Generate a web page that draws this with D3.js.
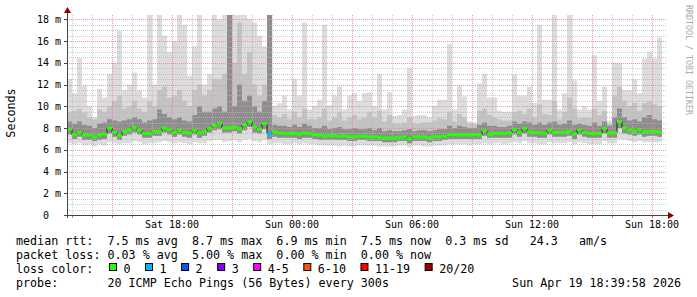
<!DOCTYPE html>
<html><head><meta charset="utf-8">
<script src="https://cdn.jsdelivr.net/npm/d3@7"></script>
<style>html,body{margin:0;padding:0;background:#fff;}svg{display:block;}text{font-family:"DejaVu Sans Mono",monospace;}</style>
</head><body><svg id="c" width="697" height="297"></svg>
<script>
// ---- data (ms) : 15 minute steps starting Sat 12:45 ----
const startTime = new Date(2026, 3, 18, 12, 45);
const endTime = new Date(2026, 3, 19, 18, 45);
const stepMinutes = 15;
const maxMs = [12.5,11.2,14.4,11.9,10.0,9.0,11.6,10.8,13.0,14.0,
16.9,11.5,12.0,13.1,11.5,10.8,18.4,12.0,18.4,16.5,
15.0,16.0,18.4,17.5,12.8,15.5,18.4,12.0,13.0,18.4,
18.0,18.4,18.4,18.4,18.4,18.4,18.0,17.7,16.5,15.5,
18.4,10.0,10.3,11.0,9.7,12.5,11.0,17.7,9.7,10.0,
10.6,17.5,10.1,11.0,11.8,9.7,11.0,11.2,10.5,11.2,
11.3,10.0,13.0,9.7,11.3,9.1,9.2,9.7,13.5,9.1,
9.2,9.2,9.0,10.0,10.6,10.6,15.7,9.7,11.9,10.9,
8.6,8.5,12.1,13.0,10.8,10.8,9.6,9.5,9.5,12.9,
11.0,11.0,11.8,10.3,17.5,10.6,10.6,18.4,9.7,11.2,
18.4,12.4,9.7,10.0,9.7,14.7,10.5,11.8,8.7,14.0,
14.0,11.5,11.5,12.5,11.2,14.4,15.0,14.4,16.3];
const upperMs = [9.5,9.6,9.8,9.4,9.0,8.8,9.7,9.5,10.0,10.5,
11.0,9.8,10.0,10.5,9.8,9.5,10.5,10.0,11.5,11.8,
10.8,11.0,11.5,10.5,10.0,11.5,12.0,11.0,11.5,12.5,
12.5,13.0,18.4,14.0,17.7,13.0,15.0,12.0,11.0,12.0,
18.4,9.2,9.0,9.3,8.8,9.5,9.0,9.8,8.8,8.8,
9.0,9.8,8.7,9.0,9.5,8.7,9.0,9.2,8.8,9.0,
9.5,9.0,9.6,8.6,9.2,8.4,8.4,8.5,9.0,8.4,
8.4,8.5,8.5,8.7,8.9,8.8,9.5,8.6,9.3,9.0,
8.4,8.4,9.6,9.8,9.2,9.0,8.8,8.7,8.7,9.5,
9.6,9.3,9.8,9.0,10.2,9.3,9.2,10.5,8.8,9.5,
10.8,9.8,8.9,9.0,8.9,9.8,9.2,9.6,8.4,11.0,
11.8,10.5,10.0,10.3,9.6,10.3,10.5,10.2,10.0];
const innerMs = [8.6,8.4,8.6,8.3,8.2,8.0,8.4,8.5,8.8,8.7,
8.6,8.7,8.8,9.0,8.8,8.5,8.7,8.8,9.7,9.3,
9.0,8.8,9.0,8.7,8.6,9.2,10.0,9.5,9.5,9.8,
10.0,9.5,18.4,10.0,12.0,10.5,11.0,10.0,9.5,10.5,
18.4,8.3,8.2,8.2,8.1,8.3,8.1,8.4,8.2,8.0,
8.0,8.2,7.9,8.0,8.1,7.9,7.9,8.0,7.9,7.9,
8.0,7.8,8.0,7.7,7.8,7.7,7.7,7.8,7.9,7.7,
7.8,7.8,7.7,7.8,7.9,7.9,8.2,8.0,8.2,8.1,
8.0,8.0,8.3,8.5,8.2,8.2,8.1,8.1,8.2,8.6,
8.4,8.6,8.5,8.3,8.5,8.3,8.5,8.6,8.3,8.4,
8.7,8.3,8.4,8.3,8.2,8.5,8.2,8.6,8.2,9.0,
9.8,9.0,8.7,8.8,8.6,9.0,9.2,8.8,8.7];
const medianMs = [7.9,7.4,7.6,7.35,7.35,7.2,7.35,7.45,8.0,7.6,
7.3,7.7,7.8,8.05,7.8,7.5,7.5,7.7,7.7,8.0,
7.85,7.6,7.8,7.6,7.55,7.8,7.55,7.7,8.0,8.25,
8.45,8.0,8.0,8.1,7.95,8.3,8.6,8.1,7.9,8.4,
7.45,7.65,7.55,7.5,7.5,7.5,7.45,7.55,7.5,7.4,
7.35,7.25,7.3,7.3,7.25,7.3,7.2,7.2,7.25,7.25,
7.2,7.2,7.15,7.1,7.1,7.1,7.15,7.2,7.0,7.2,
7.2,7.2,7.1,7.2,7.2,7.25,7.4,7.4,7.35,7.4,
7.35,7.4,7.35,7.75,7.45,7.5,7.5,7.5,7.55,7.85,
7.6,7.95,7.65,7.6,7.55,7.5,7.8,7.6,7.6,7.6,
7.7,7.45,7.85,7.6,7.5,7.5,7.5,7.95,7.55,7.55,
8.6,8.0,7.8,7.7,7.85,7.65,7.7,7.7,7.65];
const lowMs = [7.4,7.0,7.2,6.9,6.9,6.8,6.9,7.0,7.5,7.2,
6.9,7.3,7.4,7.6,7.4,7.1,7.1,7.3,7.3,7.6,
7.4,7.2,7.4,7.2,7.1,7.4,7.1,7.3,7.6,7.8,
7.9,7.6,7.6,7.7,7.5,7.8,8.1,7.6,7.5,7.9,
7.0,7.2,7.1,7.1,7.1,7.1,7.0,7.1,7.1,7.0,
6.9,6.9,6.9,6.9,6.9,6.9,6.8,6.8,6.9,6.9,
6.8,6.8,6.8,6.7,6.7,6.7,6.8,6.8,6.6,6.8,
6.8,6.8,6.7,6.8,6.8,6.9,7.0,7.0,7.0,7.0,
7.0,7.0,7.0,7.3,7.1,7.1,7.1,7.1,7.1,7.4,
7.2,7.5,7.2,7.2,7.1,7.1,7.4,7.2,7.2,7.2,
7.3,7.0,7.4,7.2,7.1,7.1,7.1,7.5,7.1,7.1,
8.0,7.5,7.4,7.3,7.4,7.2,7.3,7.3,7.2];
const minMs = [6.6,6.5,6.6,6.4,6.5,6.3,6.5,6.4,6.7,6.6,
6.5,6.6,6.6,6.8,6.7,6.5,6.6,6.6,6.7,6.8,
6.7,6.6,6.7,6.6,6.5,6.7,6.6,6.6,6.8,6.9,
6.9,6.7,6.8,6.9,6.7,6.9,7.0,6.8,6.7,6.9,
6.5,6.6,6.6,6.5,6.5,6.6,6.5,6.6,6.5,6.5,
6.4,6.4,6.4,6.4,6.3,6.4,6.3,6.3,6.4,6.4,
6.4,6.4,6.3,6.3,6.3,6.3,6.4,6.4,6.2,6.4,
6.4,6.3,6.3,6.4,6.4,6.4,6.5,6.5,6.5,6.5,
6.4,6.5,6.5,6.6,6.5,6.6,6.6,6.5,6.6,6.7,
6.6,6.8,6.6,6.6,6.5,6.5,6.7,6.6,6.6,6.6,
6.7,6.5,6.7,6.6,6.5,6.5,6.5,6.8,6.6,6.6,
7.0,6.9,6.8,6.7,6.8,6.7,6.7,6.7,6.7];
const lossCount = [0,0,0,0,0,0,0,0,0,0, 0,0,0,0,0,0,0,0,0,0,
0,0,0,0,0,0,0,0,0,0, 0,0,0,0,0,0,0,0,0,0,
1,0,0,0,0,0,0,0,0,0, 0,0,0,0,0,0,0,0,0,0,
0,0,0,0,0,0,0,0,0,0, 0,0,0,0,0,0,0,0,0,0,
0,0,0,0,0,0,0,0,0,0, 0,0,0,0,0,0,0,0,0,0,
0,0,0,0,0,0,0,0,0,0, 0,0,0,0,0,0,0,0,0];
const yTicks = [0,2,4,6,8,10,12,14,16,18];
const yTickLabels = ["0  ","2 m","4 m","6 m","8 m","10 m","12 m","14 m","16 m","18 m"];
const xTickTimes = [new Date(2026,3,18,18), new Date(2026,3,19,0), new Date(2026,3,19,6), new Date(2026,3,19,12), new Date(2026,3,19,18)];
const xTickLabels = ["Sat 18:00","Sun 00:00","Sun 06:00","Sun 12:00","Sun 18:00"];
const lossLabels = ["0","1","2","3","4-5","6-10","11-19","20/20"];
const lossColors = ["#26ff00","#00b8ff","#0059ff","#7e00ff","#ff00ff","#ff5500","#ff0000","#a10000"];
const legendLines = [
  "median rtt:  7.5 ms avg  8.7 ms max  6.9 ms min  7.5 ms now  0.3 ms sd   24.3   am/s",
  "packet loss: 0.03 % avg  5.00 % max  0.00 % min  0.00 % now"];
const probeLine = "probe:       20 ICMP Echo Pings (56 Bytes) every 300s";
const stampText = "Sun Apr 19 18:39:58 2026";

// ---- chart ----
const svg = d3.select("#c");
const x = d3.scaleTime().domain([startTime, endTime]).range([67, 667]);
const y = d3.scaleLinear().domain([0, 18.4]).range([215, 15]);
const n = medianMs.length;
const times = d3.range(n + 1).map(i => d3.timeMinute.offset(startTime, i * stepMinutes));
const pts = times.map((t, i) => { const j = Math.min(i, n - 1);
  return {t, max: maxMs[j], up: upperMs[j], inn: innerMs[j], med: medianMs[j], low: lowMs[j], min: minMs[j]}; });

const band = (a, b) => d3.area().x(d => x(d.t)).y0(d => y(d[a])).y1(d => y(d[b])).curve(d3.curveStepAfter);
const g = svg.append("g");
g.append("path").datum(pts).attr("d", band("min", "max")).attr("fill", "#dcdcdc");
g.append("path").datum(pts).attr("d", band("low", "up")).attr("fill", "#c3c3c3");
g.append("path").datum(pts).attr("d", band("low", "inn")).attr("fill", "#8e8e8e");

// grid (on top of smoke)
const grid = svg.append("g").attr("shape-rendering", "crispEdges");
d3.range(0.5, 18.01, 0.5).forEach(v => {
  const major = Math.abs(v % 2) < 1e-9;
  const yy = Math.round(y(v)) + 0.5;
  grid.append("line").attr("x1", 67).attr("x2", 667).attr("y1", yy).attr("y2", yy)
    .attr("stroke", major ? "#ee8888" : "#b8b8b8").attr("stroke-opacity", major ? 0.85 : 0.75)
    .attr("stroke-dasharray", "1,1");
});
d3.timeHour.range(new Date(2026,3,18,13), new Date(2026,3,19,18,46)).forEach(t => {
  const major = t.getHours() % 3 === 0;
  const xx = Math.round(x(t)) + 0.5;
  grid.append("line").attr("x1", xx).attr("x2", xx).attr("y1", 15).attr("y2", 215)
    .attr("stroke", major ? "#ee8888" : "#b8b8b8").attr("stroke-opacity", major ? 0.85 : 0.75)
    .attr("stroke-dasharray", "1,1");
  grid.append("line").attr("x1", xx).attr("x2", xx).attr("y1", 215).attr("y2", 218)
    .attr("stroke", major ? "#d06060" : "#999");
});

// median: dark step line + loss coloured bars
svg.append("path").datum(pts).attr("fill", "none").attr("stroke", "#222").attr("stroke-width", 1)
  .attr("d", d3.line().x(d => x(d.t)).y(d => y(d.med)).curve(d3.curveStepAfter));
const lossIdx = c => c === 0 ? 0 : c === 1 ? 1 : c === 2 ? 2 : c === 3 ? 3 : c <= 5 ? 4 : c <= 10 ? 5 : c <= 19 ? 6 : 7;
svg.append("g").selectAll("rect").data(medianMs).join("rect")
  .attr("x", (d, i) => x(times[i])).attr("width", (d, i) => x(times[i + 1]) - x(times[i]))
  .attr("y", d => y(d) - 1.5).attr("height", 3)
  .attr("fill", (d, i) => lossColors[lossIdx(lossCount[i])]);

// axes
const ax = svg.append("g").attr("shape-rendering", "crispEdges");
ax.append("line").attr("x1", 64).attr("x2", 669).attr("y1", 215.5).attr("y2", 215.5).attr("stroke", "#444");
ax.append("line").attr("x1", 67.5).attr("x2", 67.5).attr("y1", 218).attr("y2", 11).attr("stroke", "#444");
yTicks.forEach(v => {
  const yy = Math.round(y(v)) + 0.5;
  ax.append("line").attr("x1", 64).attr("x2", 67).attr("y1", yy).attr("y2", yy).attr("stroke", "#444");
});
svg.append("path").attr("d", "M64,13 L71,13 L67.5,7 Z").attr("fill", "#8b0000");
svg.append("path").attr("d", "M668,212 L668,219 L674,215.5 Z").attr("fill", "#8b0000");

svg.append("g").selectAll("text").data(yTicks).join("text")
  .attr("x", 61).attr("y", d => y(d)).attr("dy", "0.35em").attr("text-anchor", "end")
  .attr("font-size", "10px").attr("fill", "#000").style("white-space", "pre").attr("xml:space", "preserve")
  .text((d, i) => yTickLabels[i]);
svg.append("g").selectAll("text").data(xTickTimes).join("text")
  .attr("x", d => x(d)).attr("y", 228).attr("text-anchor", "middle")
  .attr("font-size", "10px").attr("fill", "#000").text((d, i) => xTickLabels[i]);

svg.append("text").attr("transform", "translate(15,113) rotate(-90)").attr("text-anchor", "middle")
  .attr("font-size", "11.7px").attr("fill", "#000").text("Seconds");
svg.append("text").attr("transform", "translate(686,5) rotate(90)").attr("text-anchor", "start")
  .attr("font-size", "8.3px").attr("fill", "#aaa").text("RRDTOOL / TOBI OETIKER");

// legend
const fs = "11.7px";
legendLines.forEach((s, i) => {
  svg.append("text").attr("x", 16).attr("y", 245 + i * 14).attr("font-size", fs)
    .style("white-space", "pre").attr("xml:space", "preserve").text(s);
});
svg.append("text").attr("x", 16).attr("y", 273).attr("font-size", fs).text("loss color:");
let cx = 109.5;
lossLabels.forEach((lab, i) => {
  svg.append("rect").attr("x", cx).attr("y", 263.5).attr("width", 7).attr("height", 7)
    .attr("fill", lossColors[i]).attr("stroke", "#000").attr("stroke-width", 1);
  const t = svg.append("text").attr("x", cx + 14).attr("y", 273).attr("font-size", fs).text(lab);
  cx = cx + 14 + t.node().getComputedTextLength() + 15;
});
svg.append("text").attr("x", 16).attr("y", 287).attr("font-size", fs)
  .style("white-space", "pre").attr("xml:space", "preserve").text(probeLine);
svg.append("text").attr("x", 681).attr("y", 287).attr("font-size", fs).attr("text-anchor", "end").text(stampText);
</script></body></html>
